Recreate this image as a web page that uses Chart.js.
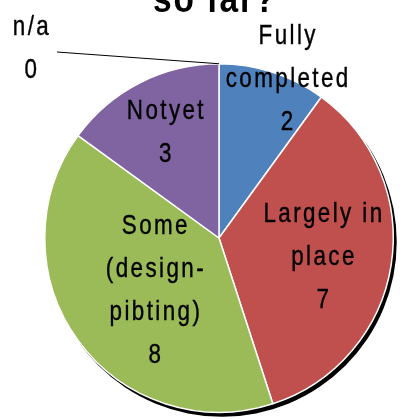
<!DOCTYPE html>
<html>
<head>
<meta charset="utf-8">
<script src="https://cdn.jsdelivr.net/npm/chart.js@4.4.1/dist/chart.umd.min.js"></script>
<style>
  html, body { margin: 0; padding: 0; background: #fff; }
  #wrap { width: 405px; height: 419px; }
</style>
</head>
<body>
<div id="wrap"><canvas id="pieChart" width="405" height="419"></canvas></div>
<script>
// data
const categories = ['Fully completed', 'Largely in place', 'Some (design-piloting)', 'Not yet', 'n/a'];
const counts = [2, 7, 8, 3, 0];
// label lines as they appear on the slices
const labelLines = [
    ['Fully', 'completed', '2'],
    ['Largely in', 'place', '7'],
    ['Some', '(design-', 'pibting)', '8'],
    ['Notyet', '3'],
    ['n/a', '0']
];
const sliceColors = ['#4F81BD', '#C0504D', '#9BBB59', '#8064A2', '#F79646'];

const labelFont = '28px "Liberation Sans", Arial, sans-serif';
const lineGap = 43;

// radial place of each label block, as fraction of radius, plus a nudge
const labelRadius = [0.97, 0.61, 0.49, 0.69];
const labelNudge = [[17, 0], [0, 0], [6, 0], [2, 0]];

function drawLines(ctx, lines, x, midY) {
    ctx.save();
    ctx.font = labelFont;
    ctx.fillStyle = '#000';
    ctx.strokeStyle = '#000';
    ctx.lineWidth = 0.4;
    ctx.textAlign = 'center';
    ctx.textBaseline = 'alphabetic';
    lines.forEach((line, i) => {
        const y = midY + (i - (lines.length - 1) / 2) * lineGap + 10;
        ctx.save();
        ctx.translate(x, y);
        ctx.scale(0.8, 1);
        ctx.letterSpacing = '3px';
        ctx.fillText(line, 0, 0);
        ctx.strokeText(line, 0, 0);
        ctx.restore();
    });
    ctx.restore();
}

const shadowPlugin = {
    id: 'shadow',
    beforeDatasetsDraw(chart) {
        const arc = chart.getDatasetMeta(0).data[0];
        const ctx = chart.ctx;
        ctx.save();
        ctx.fillStyle = '#000';
        ctx.beginPath();
        ctx.arc(arc.x + 3, arc.y + 4, arc.outerRadius + 0.5, 0, Math.PI * 2);
        ctx.fill();
        ctx.restore();
    }
};

const labelsPlugin = {
    id: 'sliceLabels',
    afterDatasetsDraw(chart) {
        const ctx = chart.ctx;
        const arcs = chart.getDatasetMeta(0).data;
        arcs.forEach((arc, i) => {
            if (counts[i] === 0) return;
            const mid = (arc.startAngle + arc.endAngle) / 2;
            const d = arc.outerRadius * labelRadius[i];
            const x = arc.x + Math.cos(mid) * d + labelNudge[i][0];
            const y = arc.y + Math.sin(mid) * d + labelNudge[i][1];
            drawLines(ctx, labelLines[i], x, y);
        });

        // zero slice: leader line out to the label in the corner
        const last = arcs[arcs.length - 1];
        const px = last.x + Math.cos(last.startAngle) * last.outerRadius;
        const py = last.y + Math.sin(last.startAngle) * last.outerRadius;
        ctx.save();
        ctx.strokeStyle = '#000';
        ctx.lineWidth = 1;
        ctx.beginPath();
        ctx.moveTo(px, py);
        ctx.lineTo(57, 52);
        ctx.stroke();
        ctx.restore();
        drawLines(ctx, labelLines[4], 32, 46);

        // title, cut off by the top edge
        ctx.save();
        ctx.font = 'bold 38px "Liberation Sans", Arial, sans-serif';
        ctx.fillStyle = '#000';
        ctx.textAlign = 'center';
        ctx.translate(215, 12);
        ctx.scale(0.88, 1);
        ctx.letterSpacing = '2px';
        ctx.fillText('so far?', 0, 0);
        ctx.restore();
    }
};

new Chart(document.getElementById('pieChart').getContext('2d'), {
    type: 'pie',
    data: {
        labels: categories,
        datasets: [{
            data: counts,
            backgroundColor: sliceColors,
            borderColor: '#fff',
            borderWidth: 1.5
        }]
    },
    options: {
        responsive: false,
        animation: false,
        layout: { padding: { top: 63, bottom: 6, left: 44, right: 11 } },
        plugins: {
            legend: { display: false },
            tooltip: { enabled: false }
        }
    },
    plugins: [shadowPlugin, labelsPlugin]
});
</script>
</body>
</html>
